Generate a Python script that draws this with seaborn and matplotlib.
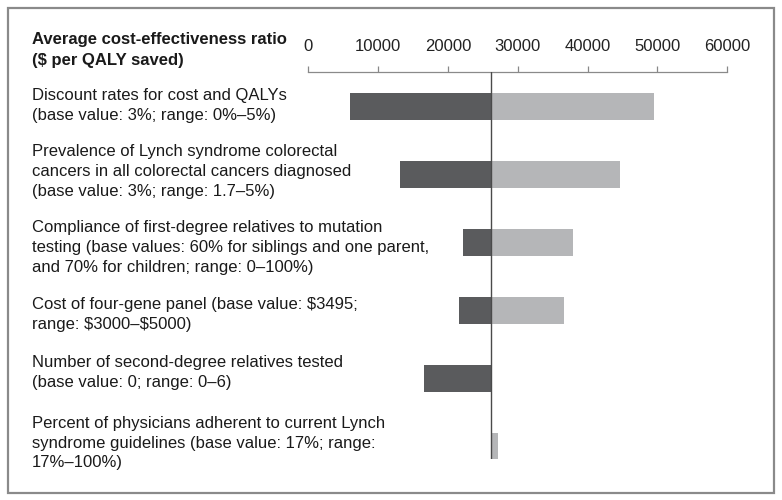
import matplotlib
matplotlib.use("Agg")
import matplotlib.pyplot as plt
import matplotlib.transforms as mtransforms
from matplotlib.patches import Rectangle
import seaborn as sns
import pandas as pd

# ---- data ----
labels = [
    "Discount rates for cost and QALYs\n(base value: 3%; range: 0%\u20135%)",
    "Prevalence of Lynch syndrome colorectal\ncancers in all colorectal cancers diagnosed\n(base value: 3%; range: 1.7\u20135%)",
    "Compliance of first-degree relatives to mutation\ntesting (base values: 60% for siblings and one parent,\nand 70% for children; range: 0\u2013100%)",
    "Cost of four-gene panel (base value: $3495;\nrange: $3000\u2013$5000)",
    "Number of second-degree relatives tested\n(base value: 0; range: 0\u20136)",
    "Percent of physicians adherent to current Lynch\nsyndrome guidelines (base value: 17%; range:\n17%\u2013100%)",
]
base_value = 26200
low_values = [6000, 13100, 22200, 21600, 16500, 26200]
high_values = [49500, 44600, 37900, 36600, 26200, 27100]
tick_values = [0, 10000, 20000, 30000, 40000, 50000, 60000]
title_text = "Average cost-effectiveness ratio\n($ per QALY saved)"

df = pd.DataFrame({"label": labels, "low": low_values, "high": high_values})

sns.set_theme(style="white")
plt.rcParams["font.family"] = ["Liberation Sans", "DejaVu Sans"]

W, H = 782, 500
fig = plt.figure(figsize=(W / 100, H / 100), dpi=100)
ax_left, ax_right = 308.3, 727.3
ax_top, ax_bot = 71.7, 459.0
ax = fig.add_axes([ax_left / W, 1 - ax_bot / H, (ax_right - ax_left) / W, (ax_bot - ax_top) / H])

dark = "#5a5b5d"
light = "#b5b6b8"
ypos = list(range(len(df)))
ax.barh(ypos, df["low"] - base_value, left=base_value, height=0.4, color=dark, edgecolor="none")
ax.barh(ypos, df["high"] - base_value, left=base_value, height=0.4, color=light, edgecolor="none")
ax.axvline(base_value, color="#4a4a4a", lw=1.0, zorder=5)

ax.set_xlim(0, 60000)
ax.set_ylim(5.19, -0.515)
ax.xaxis.tick_top()
ax.set_xticks(tick_values)
ax.set_xticklabels([str(v) for v in tick_values], fontsize=12, color="#222222")
ax.tick_params(axis="x", which="major", top=True, bottom=False, direction="out",
               length=4, width=0.9, color="#888888", pad=9)
ax.set_yticks([])
for s in ["left", "right", "bottom"]:
    ax.spines[s].set_visible(False)
ax.spines["top"].set_color("#8a8a8a")
ax.spines["top"].set_linewidth(0.9)
ax.patch.set_alpha(0)

# layout: small vertical nudges (pixels, downward positive) of each label block
label_nudge_px = [-1.5, -3, 5, 4, -6, -3]
trans = mtransforms.blended_transform_factory(fig.transFigure, ax.transData)
for i, lab in enumerate(df["label"]):
    t = trans + mtransforms.ScaledTranslation(0, -label_nudge_px[i] / 100, fig.dpi_scale_trans)
    ax.text(32 / W, i, lab, transform=t, ha="left", va="center",
            fontsize=12, color="#1a1a1a", linespacing=1.39, clip_on=False,
            parse_math=False)

fig.text(32 / W, 1 - 50 / H, title_text, ha="left", va="center", fontsize=12,
         fontweight="bold", color="#1a1a1a", linespacing=1.42, parse_math=False)

fig.patches.append(Rectangle((8 / W, 1 - 493 / H), 766 / W, 485 / H, transform=fig.transFigure,
                             fill=False, edgecolor="#8a8a8a", linewidth=1.6))

fig.savefig("out.png", dpi=100)
